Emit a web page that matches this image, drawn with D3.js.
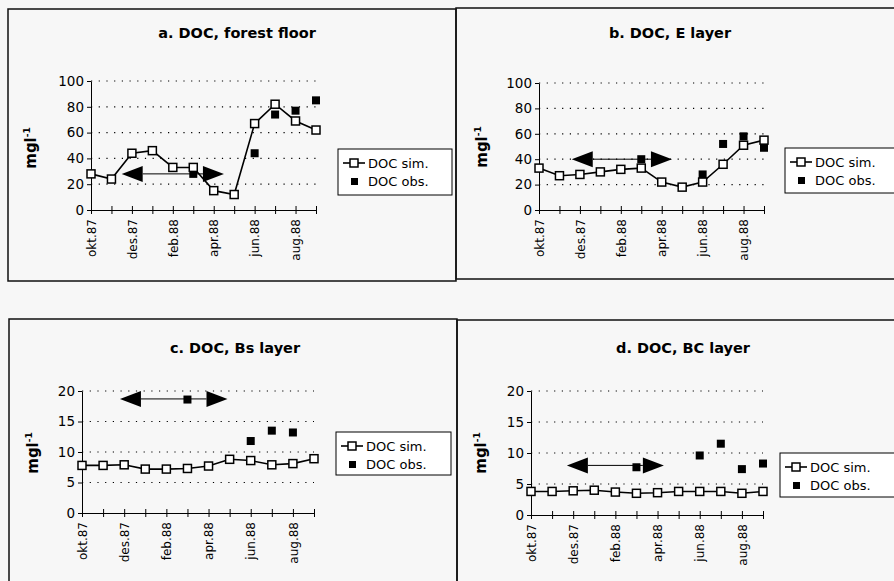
<!DOCTYPE html>
<html>
<head>
<meta charset="utf-8">
<script src="https://cdn.jsdelivr.net/npm/d3@7"></script>
<style>
  body { margin: 0; background: #f7f7f7; }
  svg { display: block; }
  text { font-family: "Century Gothic", "DejaVu Sans", sans-serif; fill: #000; }
</style>
</head>
<body>
<svg width="894" height="581"></svg>
<script>
var months = ["okt.87","nov.87","des.87","jan.88","feb.88","mar.88","apr.88","mai.88","jun.88","jul.88","aug.88","sep.88"];
var tickLabels = ["okt.87","des.87","feb.88","apr.88","jun.88","aug.88"];

var titles = ["a. DOC, forest floor", "b. DOC, E layer", "c. DOC, Bs layer", "d. DOC, BC layer"];

var simA = [28, 24, 44, 46, 33, 33, 15, 12, 67, 82, 69, 62];
var obsA = [null, null, null, null, null, 28, null, null, 44, 74, 77, 85];
var simB = [33, 27, 28, 30, 32, 33, 22, 18, 22, 36, 51, 55];
var obsB = [null, null, null, null, null, 40, null, null, 28, 52, 58, 49];
var simC = [7.8, 7.8, 7.9, 7.2, 7.2, 7.3, 7.7, 8.8, 8.6, 7.9, 8.1, 8.9];
var obsC = [null, null, null, null, null, 18.6, null, null, 11.8, 13.5, 13.2, 9.0];
var simD = [3.8, 3.8, 3.9, 4.0, 3.7, 3.5, 3.6, 3.8, 3.8, 3.8, 3.5, 3.8];
var obsD = [null, null, null, null, null, 7.7, null, null, 9.6, 11.5, 7.4, 8.3];

var yTicksTop = [0, 20, 40, 60, 80, 100];
var yTicksBottom = [0, 5, 10, 15, 20];

// arrow (month index from / to, y value) per panel
var arrowFrom = [1.5, 1.6, 1.8, 1.7];
var arrowTo = [6.5, 6.5, 6.9, 6.3];
var arrowY = [28, 40, 18.7, 8];

var legendLabels = ["DOC sim.", "DOC obs."];

var svg = d3.select("svg");

// panel frames
var frames = [
  {x: 8, y: 9, w: 448, h: 272},
  {x: 456, y: 8, w: 450, h: 271},
  {x: 9, y: 319, w: 448, h: 280},
  {x: 457, y: 320, w: 450, h: 280}
];

var panels = [
  {sim: simA, obs: obsA, ticks: yTicksTop, max: 100, left: 91, right: 316, top: 81, bottom: 210, titleX: 237, titleY: 38, labX: 36, labY: 148, legend: {x: 338, y: 149, w: 114, h: 46}},
  {sim: simB, obs: obsB, ticks: yTicksTop, max: 100, left: 539, right: 764, top: 83, bottom: 210, titleX: 670, titleY: 38, labX: 487, labY: 147, legend: {x: 785, y: 148, w: 115, h: 45}},
  {sim: simC, obs: obsC, ticks: yTicksBottom, max: 20, left: 82, right: 314, top: 391, bottom: 513, titleX: 235, titleY: 353, labX: 38, labY: 453, legend: {x: 336, y: 432, w: 115, h: 43}},
  {sim: simD, obs: obsD, ticks: yTicksBottom, max: 20, left: 531, right: 763, top: 391, bottom: 515, titleX: 683, titleY: 353, labX: 486, labY: 453, legend: {x: 780, y: 453, w: 120, h: 44}}
];

svg.selectAll("rect.frame")
  .data(frames)
  .enter().append("rect")
  .attr("class", "frame")
  .attr("x", function(d) { return d.x; })
  .attr("y", function(d) { return d.y; })
  .attr("width", function(d) { return d.w; })
  .attr("height", function(d) { return d.h; })
  .attr("fill", "none")
  .attr("stroke", "#111")
  .attr("stroke-width", 1.5);

panels.forEach(function(p, i) {
  var x = d3.scalePoint().domain(months).range([p.left, p.right]);
  var xi = d3.scaleLinear().domain([0, months.length - 1]).range([p.left, p.right]);
  var y = d3.scaleLinear().domain([0, p.max]).range([p.bottom, p.top]);
  var g = svg.append("g");

  g.append("text")
    .attr("x", p.titleX)
    .attr("y", p.titleY)
    .attr("text-anchor", "middle")
    .style("font-size", "14.5px")
    .style("font-weight", "bold")
    .text(titles[i]);

  // dotted grid
  g.selectAll("line.grid")
    .data(p.ticks.filter(function(t) { return t > 0; }))
    .enter().append("line")
    .attr("class", "grid")
    .attr("x1", p.left).attr("x2", p.right)
    .attr("y1", function(d) { return y(d); })
    .attr("y2", function(d) { return y(d); })
    .attr("stroke", "#000")
    .attr("stroke-width", 1.2)
    .attr("stroke-dasharray", "1.2,6.5");

  var yAxis = d3.axisLeft(y).tickValues(p.ticks).tickSize(4).tickSizeOuter(0);
  var ya = g.append("g")
    .attr("transform", "translate(" + p.left + ",0)")
    .call(yAxis);
  ya.selectAll("text").style("font-size", "13.5px").style("font-family", "\"Century Gothic\", \"DejaVu Sans\", sans-serif").attr("x", -7);
  ya.select(".domain").attr("stroke", "#000");

  var xAxis = d3.axisBottom(x).tickSize(4).tickSizeOuter(0)
    .tickFormat(function(d) { return tickLabels.indexOf(d) >= 0 ? d : ""; });
  var xa = g.append("g")
    .attr("transform", "translate(0," + p.bottom + ")")
    .call(xAxis);
  xa.select(".domain").attr("stroke", "#000");
  xa.selectAll(".tick line").attr("y1", -4);
  xa.selectAll("text")
    .style("font-size", "12px")
    .style("font-family", "\"Century Gothic\", \"DejaVu Sans\", sans-serif")
    .attr("text-anchor", "end")
    .attr("dy", "0.35em")
    .attr("transform", "rotate(-90)")
    .attr("x", -9)
    .attr("y", 0);

  var lab = g.append("text")
    .attr("transform", "translate(" + p.labX + "," + p.labY + ") rotate(-90)")
    .attr("text-anchor", "middle")
    .style("font-size", "15px")
    .style("font-weight", "bold");
  lab.append("tspan").text("mgl");
  lab.append("tspan").attr("dy", -6).style("font-size", "9px").text("-1");

  // arrow
  var ay = y(arrowY[i]), ax0 = xi(arrowFrom[i]), ax1 = xi(arrowTo[i]);
  var head = 21, hh = 8;
  g.append("line")
    .attr("x1", ax0 + head).attr("x2", ax1 - head)
    .attr("y1", ay).attr("y2", ay)
    .attr("stroke", "#000").attr("stroke-width", 1);
  g.append("path")
    .attr("d", "M" + ax0 + "," + ay + "L" + (ax0 + head) + "," + (ay - hh) + "L" + (ax0 + head) + "," + (ay + hh) + "Z")
    .attr("fill", "#000");
  g.append("path")
    .attr("d", "M" + ax1 + "," + ay + "L" + (ax1 - head) + "," + (ay - hh) + "L" + (ax1 - head) + "," + (ay + hh) + "Z")
    .attr("fill", "#000");

  // simulated line
  var line = d3.line()
    .x(function(d, j) { return x(months[j]); })
    .y(function(d) { return y(d); });
  g.append("path")
    .datum(p.sim)
    .attr("d", line)
    .attr("fill", "none")
    .attr("stroke", "#000")
    .attr("stroke-width", 1.6);

  // observed
  g.selectAll("rect.obs")
    .data(p.obs.map(function(v, j) { return {m: months[j], v: v}; }).filter(function(d) { return d.v != null; }))
    .enter().append("rect")
    .attr("class", "obs")
    .attr("x", function(d) { return x(d.m) - 4; })
    .attr("y", function(d) { return y(d.v) - 4; })
    .attr("width", 8).attr("height", 8)
    .attr("fill", "#000");

  g.selectAll("rect.sim")
    .data(p.sim)
    .enter().append("rect")
    .attr("class", "sim")
    .attr("x", function(d, j) { return x(months[j]) - 4; })
    .attr("y", function(d) { return y(d) - 4; })
    .attr("width", 8).attr("height", 8)
    .attr("fill", "#fff")
    .attr("stroke", "#000")
    .attr("stroke-width", 1.5);

  // legend
  var L = p.legend;
  var lg = g.append("g").attr("transform", "translate(" + L.x + "," + L.y + ")");
  lg.append("rect")
    .attr("width", L.w).attr("height", L.h)
    .attr("fill", "#fff").attr("stroke", "#000").attr("stroke-width", 1);
  lg.append("line")
    .attr("x1", 5).attr("x2", 27).attr("y1", 14).attr("y2", 14)
    .attr("stroke", "#000").attr("stroke-width", 1.6);
  lg.append("rect")
    .attr("x", 12).attr("y", 10).attr("width", 8).attr("height", 8)
    .attr("fill", "#fff").attr("stroke", "#000").attr("stroke-width", 1.5);
  lg.append("rect")
    .attr("x", 13).attr("y", 29).attr("width", 7).attr("height", 7)
    .attr("fill", "#000");
  lg.selectAll("text")
    .data(legendLabels)
    .enter().append("text")
    .attr("x", 30)
    .attr("y", function(d, k) { return 19 + k * 18; })
    .style("font-size", "13px")
    .text(function(d) { return d; });
});
</script>
</body>
</html>
